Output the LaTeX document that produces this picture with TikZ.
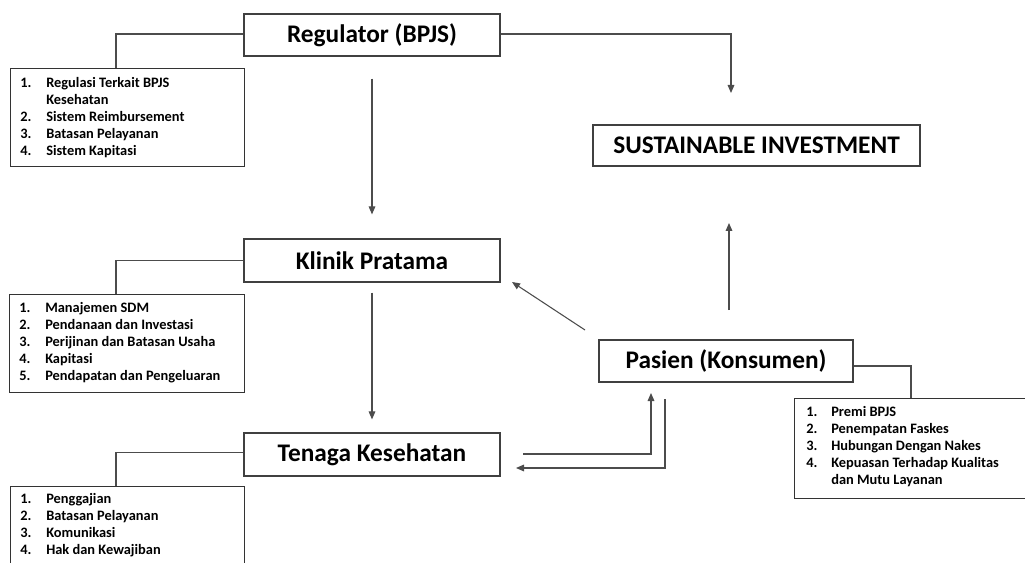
\documentclass[tikz,border=0pt]{standalone}
\usepackage{fontspec}
\setmainfont{Carlito}
\usetikzlibrary{arrows.meta}
\tikzset{
  titlebox/.style={draw=black!75, line width=0.9pt, inner sep=0pt,
    font=\fontsize{19}{22}\selectfont\bfseries},
  listbox/.style={draw=black!80, line width=0.9pt, anchor=north west, inner sep=0pt},
  listtext/.style={anchor=north west, inner sep=0pt,
    font=\fontsize{10.8}{12.75}\selectfont\bfseries},
  link/.style={draw=black!70, line width=0.8pt},
  arr/.style={link, -{Triangle[length=6pt,width=5pt]}},
}
\begin{document}
\begin{tikzpicture}[x=0.75pt,y=-0.75pt]
\useasboundingbox (0,0) rectangle (1025,563);
\clip (0,0) rectangle (1025,563);
% main boxes
\node[titlebox, minimum width=192pt, minimum height=31.5pt] (reg) at (372,35) {Regulator (BPJS)};
\node[titlebox, minimum width=245.25pt, minimum height=30.75pt] (sus) at (756.5,145.5) {SUSTAINABLE INVESTMENT};
\node[titlebox, minimum width=192pt, minimum height=32.25pt] (kli) at (372,260.5) {Klinik Pratama};
\node[titlebox, minimum width=192pt, minimum height=32.25pt] (ten) at (372,454.5) {Tenaga Kesehatan};
\node[titlebox, minimum width=190.5pt, minimum height=31.5pt] (pas) at (726,361) {Pasien (Konsumen)};
% list boxes
\node[listbox, minimum width=175.5pt, minimum height=73.5pt] (l1) at (10,68) {};
\node[listbox, minimum width=176.25pt, minimum height=73.5pt] (l2) at (9,294) {};
\node[listbox, minimum width=175.5pt, minimum height=90pt] (l3) at (10,486) {};
\node[listbox, minimum width=187.5pt, minimum height=75pt] (l4) at (794,398) {};
% list texts
\node[listtext] (t1) at (20,75.1) {\begin{tabular}{@{}p{19.5pt}@{}l@{}}
1. & Regulasi Terkait BPJS\\
   & Kesehatan\\
2. & Sistem Reimbursement\\
3. & Batasan Pelayanan\\
4. & Sistem Kapitasi
\end{tabular}};
\node[listtext] (t2) at (19,300.1) {\begin{tabular}{@{}p{19.5pt}@{}l@{}}
1. & Manajemen SDM\\
2. & Pendanaan dan Investasi\\
3. & Perijinan dan Batasan Usaha\\
4. & Kapitasi\\
5. & Pendapatan dan Pengeluaran
\end{tabular}};
\node[listtext] (t3) at (20,491.1) {\begin{tabular}{@{}p{19.5pt}@{}l@{}}
1. & Penggajian\\
2. & Batasan Pelayanan\\
3. & Komunikasi\\
4. & Hak dan Kewajiban
\end{tabular}};
\node[listtext] (t4) at (806,404.1) {\begin{tabular}{@{}p{18.75pt}@{}l@{}}
1. & Premi BPJS\\
2. & Penempatan Faskes\\
3. & Hubungan Dengan Nakes\\
4. & Kepuasan Terhadap Kualitas\\
   & dan Mutu Layanan
\end{tabular}};
% free-end coordinates
\coordinate (c1) at (116,68);
\coordinate (c2) at (116,294);
\coordinate (c3) at (116,486);
\coordinate (c4) at (911,398);
\coordinate (sa) at (731,93);
\coordinate (d1) at (585,330);
\coordinate (d2) at (512,282);
\coordinate (u1) at (729,310);
\coordinate (u2) at (729,223);
\coordinate (p1) at (523,454);
\coordinate (p2) at (651,393);
\coordinate (q1) at (665,399);
\coordinate (q2) at (516,468);
% connectors to lists
\draw[link] ([yshift=0.75pt]reg.west) -| (c1);
\draw[link] (kli.west) -| (c2);
\draw[link] ([yshift=1.5pt]ten.west) -| (c3);
\draw[link] ([yshift=-3.75pt]pas.east) -| (c4);
% arrows
\draw[arr] ([yshift=0.75pt]reg.east) -| (sa);
\draw[arr, shorten <=16.5pt, shorten >=18pt] (reg.south) -- (kli.north);
\draw[arr, shorten <=7.5pt, shorten >=9.75pt] (kli.south) -- (ten.north);
\draw[arr] (d1) -- (d2);
\draw[arr] (u1) -- (u2);
\draw[arr] (p1) -| (p2);
\draw[arr] (q1) |- (q2);
\end{tikzpicture}
\end{document}
